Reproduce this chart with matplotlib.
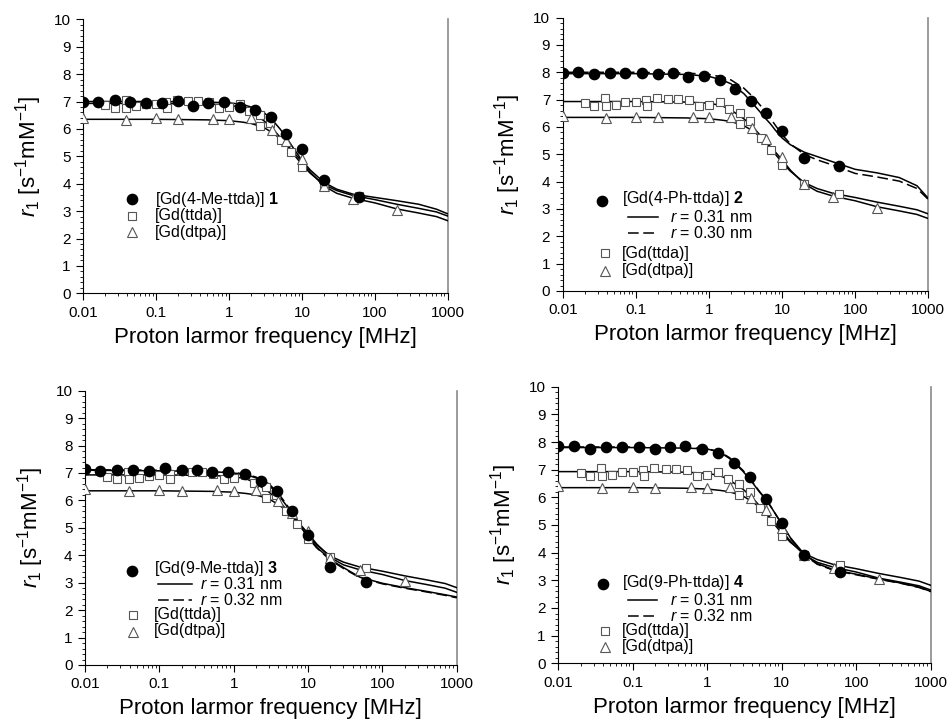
import matplotlib
matplotlib.use("Agg")
import matplotlib.pyplot as plt
from matplotlib.lines import Line2D
from matplotlib.ticker import FixedLocator, FixedFormatter, LogLocator, MultipleLocator, NullFormatter

plt.rcParams['font.family'] = ['Liberation Sans', 'DejaVu Sans']
plt.rcParams['mathtext.fontset'] = 'custom'
plt.rcParams['mathtext.rm'] = 'Liberation Sans'
plt.rcParams['mathtext.it'] = 'Liberation Sans:italic'
plt.rcParams['mathtext.bf'] = 'Liberation Sans:bold'

# ---------------- data ----------------
XTICKS = [0.01, 0.1, 1, 10, 100, 1000]
XTICK_LABELS = ['0.01', '0.1', '1', '10', '100', '1000']
YTICKS = [0, 1, 2, 3, 4, 5, 6, 7, 8, 9, 10]
XLABEL = 'Proton larmor frequency [MHz]'
YLABEL = r'$r_1$ [s$^{-1}$mM$^{-1}$]'

# frequencies of the filled-circle points (MHz)
circ_f = [0.01, 0.016, 0.027, 0.044, 0.072, 0.12, 0.2, 0.32, 0.51, 0.85, 1.4, 2.3, 3.8, 6.1, 10, 20, 60]
circ1_v = [6.97, 7.0, 7.05, 6.97, 6.93, 6.95, 7.02, 6.85, 6.93, 6.98, 6.8, 6.7, 6.45, 5.8, 5.25, 4.15, 3.5]
circ2_v = [7.97, 8.0, 7.95, 7.98, 7.97, 7.97, 7.95, 7.98, 7.82, 7.85, 7.72, 7.38, 6.95, 6.5, 5.85, 4.87, 4.57]
circ3_v = [7.15, 7.07, 7.1, 7.1, 7.08, 7.2, 7.12, 7.1, 7.05, 7.05, 6.97, 6.72, 6.35, 5.6, 4.75, 3.58, 3.03]
circ4_v = [7.86, 7.84, 7.74, 7.82, 7.82, 7.82, 7.76, 7.82, 7.86, 7.74, 7.61, 7.25, 6.72, 5.94, 5.06, 3.9, 3.31]

# [Gd(ttda)] open squares
ttda_f = [0.02, 0.027, 0.038, 0.039, 0.053, 0.072, 0.1, 0.138, 0.14, 0.194, 0.275, 0.38, 0.53, 0.73,
          1.0, 1.4, 1.9, 2.7, 2.7, 3.7, 5.1, 7.1, 10, 20, 60]
ttda_v = [6.87, 6.78, 7.05, 6.78, 6.82, 6.9, 6.92, 6.98, 6.77, 7.07, 7.03, 7.03, 6.98, 6.77,
          6.8, 6.92, 6.65, 6.5, 6.1, 6.2, 5.6, 5.15, 4.6, 3.92, 3.55]

# [Gd(dtpa)] open triangles
dtpa_f = [0.01, 0.039, 0.1, 0.2, 0.6, 1.0, 2.0, 3.9, 6.1, 10, 20, 50, 200]
dtpa_v = [6.4, 6.33, 6.38, 6.35, 6.37, 6.35, 6.38, 5.97, 5.55, 4.9, 3.9, 3.45, 3.05]

# fitted curves, read at these frequencies
curve_f = [0.01, 0.1, 0.5, 1, 1.5, 2, 3, 4, 5, 6, 7, 8, 10, 13, 20, 30, 50, 100, 200, 400, 700, 1000]
fit_ttda = [6.93, 6.93, 6.91, 6.87, 6.78, 6.62, 6.3, 6.0, 5.7, 5.45, 5.22, 5.02, 4.7, 4.38, 3.97, 3.75, 3.57, 3.42, 3.25, 3.1, 2.97, 2.82]
fit_dtpa = [6.35, 6.35, 6.33, 6.3, 6.25, 6.2, 6.05, 5.85, 5.65, 5.45, 5.27, 5.1, 4.8, 4.42, 3.92, 3.65, 3.47, 3.3, 3.08, 2.93, 2.8, 2.65]
fit1 = [7.0, 7.0, 6.98, 6.95, 6.9, 6.8, 6.6, 6.3, 6.0, 5.72, 5.45, 5.22, 4.85, 4.5, 4.05, 3.8, 3.62, 3.5, 3.38, 3.25, 3.07, 2.9]
fit2_031 = [7.95, 7.95, 7.92, 7.85, 7.72, 7.58, 7.22, 6.85, 6.55, 6.3, 6.1, 5.9, 5.6, 5.35, 5.08, 4.92, 4.72, 4.45, 4.32, 4.15, 3.85, 3.39]
fit2_030 = [8.0, 8.0, 7.97, 7.92, 7.83, 7.72, 7.42, 7.1, 6.8, 6.55, 6.3, 6.08, 5.72, 5.38, 5.0, 4.8, 4.6, 4.3, 4.17, 4.02, 3.75, 3.35]
fit3_031 = [7.1, 7.08, 7.05, 7.0, 6.93, 6.82, 6.55, 6.2, 5.85, 5.55, 5.3, 5.05, 4.65, 4.3, 3.85, 3.55, 3.2, 2.98, 2.82, 2.68, 2.56, 2.48]
fit3_032 = [7.12, 7.1, 7.07, 7.02, 6.95, 6.85, 6.6, 6.25, 5.9, 5.58, 5.32, 5.06, 4.65, 4.28, 3.82, 3.52, 3.18, 2.96, 2.8, 2.66, 2.54, 2.45]
fit4_031 = [7.8, 7.8, 7.78, 7.75, 7.62, 7.4, 6.95, 6.55, 6.2, 5.95, 5.7, 5.45, 5.05, 4.55, 3.95, 3.6, 3.38, 3.22, 3.05, 2.9, 2.75, 2.6]
fit4_032 = [7.82, 7.82, 7.8, 7.76, 7.64, 7.43, 6.98, 6.58, 6.22, 5.96, 5.7, 5.45, 5.03, 4.52, 3.92, 3.58, 3.36, 3.2, 3.04, 2.89, 2.74, 2.59]

label1 = r'[Gd(4-Me-ttda)] $\mathbf{1}$'
label2 = r'[Gd(4-Ph-ttda)] $\mathbf{2}$'
label3 = r'[Gd(9-Me-ttda)] $\mathbf{3}$'
label4 = r'[Gd(9-Ph-ttda)] $\mathbf{4}$'
label_ttda = '[Gd(ttda)]'
label_dtpa = '[Gd(dtpa)]'
r_labels = {2: (r'$r$ = 0.31 nm', r'$r$ = 0.30 nm'),
            3: (r'$r$ = 0.31 nm', r'$r$ = 0.32 nm'),
            4: (r'$r$ = 0.31 nm', r'$r$ = 0.32 nm')}

# ---------------- figure ----------------
W, H = 950, 728
fig = plt.figure(figsize=(W / 100, H / 100), dpi=100)

def rect(l, t, r, b):
    return [l / W, 1 - b / H, (r - l) / W, (b - t) / H]

axes_px = [(83.3, 19.3, 447.7, 293.3),
           (562.7, 17.6, 928.3, 291.0),
           (85.0, 390.7, 456.7, 665.0),
           (558.3, 386.7, 930.7, 663.3)]

DASH = (0, (7, 3))
circ_kw = dict(ls='none', marker='o', ms=7.4, mfc='black', mec='black', zorder=5)
sq_kw = dict(ls='none', marker='s', ms=6.4, mfc='white', mec='#555555', mew=0.8, zorder=4)
tri_kw = dict(ls='none', marker='^', ms=7.0, mfc='white', mec='#555555', mew=0.8, zorder=4)
line_kw = dict(color='black', lw=1.1, zorder=3)


def style_axis(ax):
    ax.set_xscale('log')
    ax.set_xlim(0.01, 1000)
    ax.set_ylim(0, 10)
    ax.xaxis.set_major_locator(FixedLocator(XTICKS))
    ax.xaxis.set_major_formatter(FixedFormatter(XTICK_LABELS))
    ax.xaxis.set_minor_locator(LogLocator(base=10, subs=range(2, 10), numticks=20))
    ax.xaxis.set_minor_formatter(NullFormatter())
    ax.yaxis.set_major_locator(FixedLocator(YTICKS))
    ax.yaxis.set_minor_locator(MultipleLocator(0.2))
    ax.tick_params(which='major', direction='out', length=5, width=0.8, labelsize=11, pad=4)
    ax.tick_params(which='minor', direction='out', length=2.5, width=0.6)
    ax.tick_params(top=False, right=False, which='both')
    ax.spines['top'].set_visible(False)
    ax.spines['right'].set_color('#8a8a8a')
    ax.spines['right'].set_linewidth(1.2)
    ax.spines['left'].set_linewidth(0.8)
    ax.spines['bottom'].set_linewidth(0.8)
    ax.set_xlabel(XLABEL, fontsize=16, labelpad=5)
    ax.set_ylabel(YLABEL, fontsize=16, labelpad=7)


def fx(x, y):
    return x / W, 1 - y / H


def leg_marker(x, y, kw):
    xx, yy = fx(x, y)
    k = dict(kw)
    k.pop('zorder', None)
    fig.add_artist(Line2D([xx], [yy], transform=fig.transFigure, **k))


def leg_line(x0, x1, y, ls):
    a0, yy = fx(x0, y)
    a1, _ = fx(x1, y)
    fig.add_artist(Line2D([a0, a1], [yy, yy], transform=fig.transFigure, color='black', lw=1.1, ls=ls))


def leg_text(x, y, s):
    xx, yy = fx(x, y)
    fig.text(xx, yy, s, fontsize=11.5, ha='left', va='center')


fits = {1: (fit1, None), 2: (fit2_031, fit2_030), 3: (fit3_031, fit3_032), 4: (fit4_031, fit4_032)}
circs = {1: circ1_v, 2: circ2_v, 3: circ3_v, 4: circ4_v}

for i, box in enumerate(axes_px, start=1):
    ax = fig.add_axes(rect(*box))
    style_axis(ax)
    ax.plot(curve_f, fit_ttda, **line_kw)
    ax.plot(curve_f, fit_dtpa, **line_kw)
    solid, dashed = fits[i]
    ax.plot(curve_f, solid, **line_kw)
    if dashed is not None:
        ax.plot(curve_f, dashed, ls=DASH, **line_kw)
    ax.plot(circ_f, circs[i], **circ_kw)
    ax.plot(ttda_f, ttda_v, **sq_kw)
    ax.plot(dtpa_f, dtpa_v, **tri_kw)

# ---- legends (pixel layout) ----
# panel 1
leg_marker(131.7, 199.3, circ_kw); leg_text(155, 199.3, label1)
leg_marker(131.7, 215.5, sq_kw); leg_text(155, 215.5, label_ttda)
leg_marker(131.7, 232.0, tri_kw); leg_text(155, 232.0, label_dtpa)

# panel 2
leg_marker(601.7, 201.0, circ_kw); leg_text(621.7, 199.0, label2)
leg_line(628, 658, 216.7, '-'); leg_text(670, 216.7, r_labels[2][0])
leg_line(628, 658, 233.3, DASH); leg_text(670, 233.3, r_labels[2][1])
leg_marker(605, 253.3, sq_kw); leg_text(621.7, 253.3, label_ttda)
leg_marker(605, 271.0, tri_kw); leg_text(621.7, 271.0, label_dtpa)

# panel 3
leg_marker(131.7, 570.7, circ_kw); leg_text(154.3, 568.5, label3)
leg_line(158, 192, 584.3, '-'); leg_text(200, 584.3, r_labels[3][0])
leg_line(158, 192, 600.0, DASH); leg_text(200, 600.0, r_labels[3][1])
leg_marker(132.7, 615.0, sq_kw); leg_text(154.3, 614.0, label_ttda)
leg_marker(132.7, 631.7, tri_kw); leg_text(154.3, 630.7, label_dtpa)

# panel 4
leg_marker(603.3, 584.0, circ_kw); leg_text(621.7, 583.0, label4)
leg_line(628, 657, 600.0, '-'); leg_text(670, 600.0, r_labels[4][0])
leg_line(628, 657, 616.0, DASH); leg_text(670, 616.0, r_labels[4][1])
leg_marker(605, 631.0, sq_kw); leg_text(621.7, 631.0, label_ttda)
leg_marker(605, 646.7, tri_kw); leg_text(621.7, 646.7, label_dtpa)

fig.savefig('out.png', dpi=100)
